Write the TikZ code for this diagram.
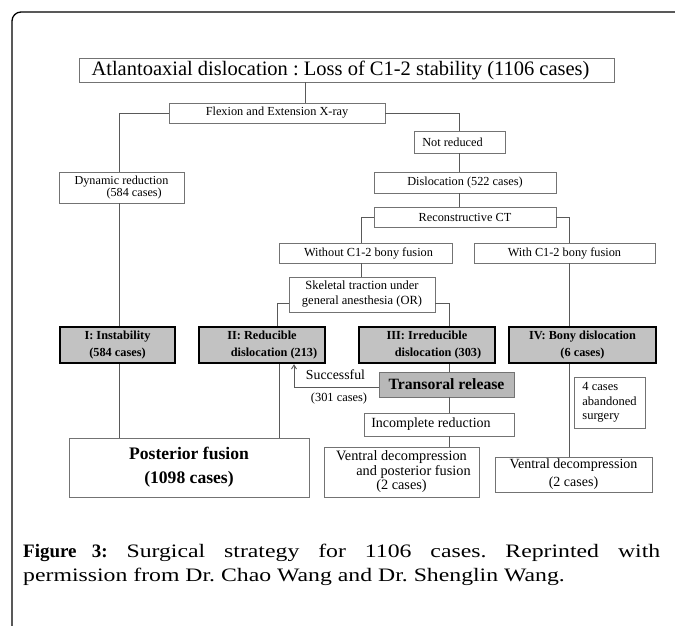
\documentclass[tikz,border=0pt]{standalone}
\usepackage{fontspec}
\setmainfont{Liberation Serif}
\newfontfamily\capfont[FakeStretch=1.25]{Liberation Serif}
\newfontfamily\capbold{Liberation Serif}
\usetikzlibrary{arrows.meta}
\newcommand\fsz[2]{\fontsize{#1pt}{#2pt}\selectfont}
\frenchspacing
\begin{document}
\begin{tikzpicture}[x=1pt,y=-1pt,
  bx/.style={draw=black!55, line width=0.9pt, inner sep=0pt, align=center, font=\fsz{12.3}{14}},
  tb/.style={draw=black, line width=2.4pt, fill=black!24, inner sep=0pt, align=center, font=\bfseries\fsz{12.3}{17}},
  ln/.style={draw=black!65, line width=0.9pt},
  lbl/.style={inner sep=0pt}]
\useasboundingbox (0,0) rectangle (675,626);
\begin{scope}
\clip (0,0) rectangle (675,626);
\draw[line width=1.3pt, rounded corners=9pt] (12,12) rectangle (700,660);
\end{scope}
% guides
\coordinate (xa) at (305,0);
\coordinate (xb) at (119,0);
\coordinate (xc) at (459,0);
\coordinate (xd) at (361,0);
\coordinate (xe) at (569,0);
\coordinate (xf) at (277,0);
\coordinate (xg) at (449,0);
\coordinate (xh) at (279,0);
\coordinate (xi) at (294,0);
\coordinate (yg) at (0,303);
\coordinate (yh) at (0,387);
% boxes
\node[bx, minimum width=535pt, minimum height=24pt, font=\fsz{20.5}{24}] (title) at (346.5,70) {Atlantoaxial dislocation : Loss of C1-2 stability (1106 cases)\hspace{12pt}};
\node[bx, minimum width=216pt, minimum height=20pt] (flex) at (277,113) {Flexion and Extension X-ray};
\node[bx, minimum width=91pt, minimum height=22pt] (notred) at (459.5,142) {Not reduced\hspace{14pt}};
\node[bx, minimum width=125pt, minimum height=31pt, align=left, font=\fsz{12.2}{11.5}] (dyn) at (121.5,187.5) {Dynamic reduction\\\hspace*{32pt}(584 cases)};
\node[bx, minimum width=182pt, minimum height=21pt] (disl) at (465,182.5) {Dislocation (522 cases)};
\node[bx, minimum width=182pt, minimum height=20pt] (recon) at (465,217) {Reconstructive CT};
\node[bx, minimum width=173pt, minimum height=20pt] (without) at (365.5,253) {\hspace{6pt}Without C1-2 bony fusion};
\node[bx, minimum width=181pt, minimum height=20pt] (with) at (564.5,253) {With C1-2 bony fusion};
\node[bx, minimum width=146pt, minimum height=35pt, font=\fsz{12.5}{15}] (skel) at (362,294.5) {Skeletal traction under\\general anesthesia (OR)};
\node[tb, minimum width=115pt, minimum height=36pt] (I) at (117.5,345) {I: Instability\\(584 cases)};
\node[tb, minimum width=126pt, minimum height=36pt] (II) at (262,345) {II: Reducible\\\hspace*{24pt}dislocation (213)};
\node[tb, minimum width=136pt, minimum height=36pt] (III) at (427,345) {III: Irreducible\\\hspace*{22pt}dislocation (303)};
\node[tb, minimum width=147pt, minimum height=36pt] (IV) at (582.5,345) {IV: Bony dislocation\\(6 cases)};
\node[bx, fill=black!28, minimum width=135pt, minimum height=25pt, font=\bfseries\fsz{15.7}{18}] (trans) at (446.5,384.5) {Transoral release};
\node[bx, minimum width=71pt, minimum height=51pt, align=left, font=\fsz{12.5}{14.5}] (four) at (609.5,402.5) {4 cases\\abandoned\\surgery};
\node[bx, minimum width=150pt, minimum height=23pt, font=\fsz{14}{16}] (incomp) at (439,424.5) {Incomplete reduction\hspace{16pt}};
\node[bx, minimum width=240pt, minimum height=59pt, font=\bfseries\fsz{17.6}{24}] (post) at (189,467.5) {Posterior fusion\\(1098 cases)};
\node[bx, minimum width=155pt, minimum height=50pt, font=\fsz{14.3}{14.5}] (vp) at (401.5,472) {Ventral decompression\\\hspace*{24pt}and posterior fusion\\(2 cases)};
\node[bx, minimum width=157pt, minimum height=35pt, font=\fsz{14}{18}] (vd) at (573.5,474.5) {Ventral decompression\\(2 cases)};
% labels
\node[lbl, font=\fsz{13.8}{16}] (succ) at (335.5,375) {Successful};
\node[lbl, font=\fsz{12.4}{14}] (n301) at (339,399) {(301 cases)};
% connectors
\draw[ln] (title.south -| xa) -- (flex.north -| xa);
\draw[ln] (flex.west) -| (xb |- dyn.north);
\draw[ln] (flex.east) -| (xc |- notred.north);
\draw[ln] (xc |- notred.south) -- (xc |- disl.north);
\draw[ln] (xc |- disl.south) -- (xc |- recon.north);
\draw[ln] (recon.west) -| (xd |- without.north);
\draw[ln] (recon.east) -| (xe |- with.north);
\draw[ln] (xd |- without.south) -- (xd |- skel.north);
\draw[ln] (skel.west |- yg) -| (xf |- II.north);
\draw[ln] (skel.east |- yg) -| (xg |- III.north);
\draw[ln] (xe |- with.south) -- (xe |- IV.north);
\draw[ln] (xb |- dyn.south) -- (xb |- I.north);
\draw[ln] (xb |- I.south) -- (xb |- post.north);
\draw[ln] (xh |- II.south) -- (xh |- post.north);
\draw[ln] (xg |- III.south) -- (xg |- trans.north);
\draw[ln] (xg |- trans.south) -- (xg |- incomp.north);
\draw[ln] (xg |- incomp.south) -- (xg |- vp.north);
\draw[ln] (xe |- IV.south) -- (xe |- vd.north);
\draw[ln, -{Straight Barb[length=4pt,width=5pt]}] (trans.west |- yh) -| (xi |- II.south);
% caption
\node[lbl, anchor=west, font=\capfont\fsz{19}{24}] (cap1) at (23,553) {\makebox[637pt][s]{{\capbold\bfseries Figure 3:} Surgical strategy for 1106 cases. Reprinted with}};
\node[lbl, anchor=west, font=\capfont\fsz{19}{24}] (cap2) at (23,577) {permission from Dr. Chao Wang and Dr. Shenglin Wang.};
\end{tikzpicture}
\end{document}
